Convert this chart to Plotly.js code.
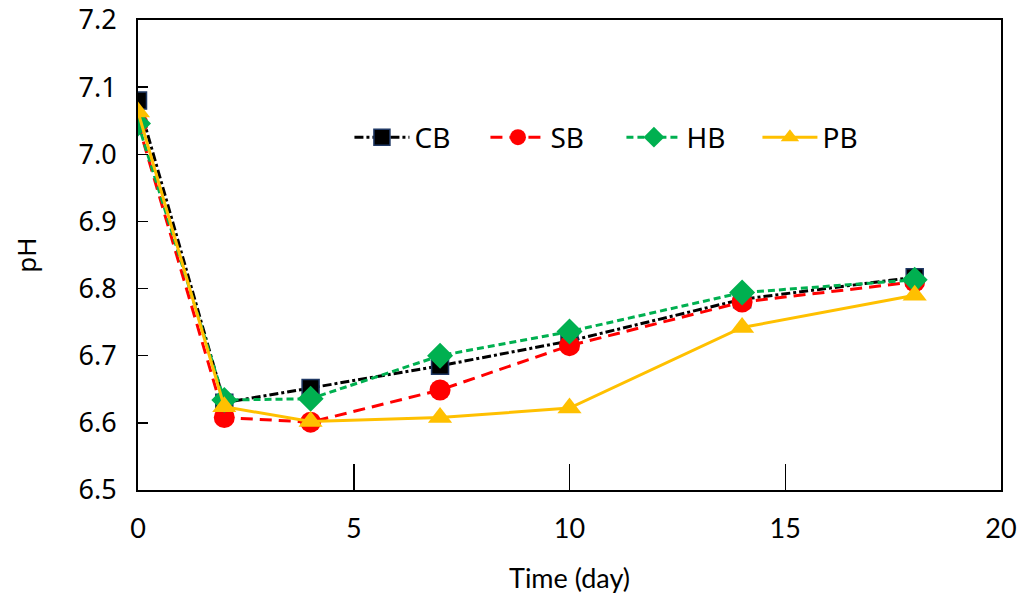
<!DOCTYPE html>
<html>
<head>
<meta charset="utf-8">
<script src="https://cdn.plot.ly/plotly-3.0.1.min.js"></script>
<style>html,body{margin:0;padding:0;background:#fff;}#chart{width:1026px;height:607px;}</style>
</head>
<body>
<div id="chart"></div>
<script>
var days = [0, 2, 4, 7, 10, 14, 18];
var CB = [7.080, 6.630, 6.652, 6.685, 6.722, 6.784, 6.817];
var SB = [7.046, 6.608, 6.601, 6.649, 6.715, 6.780, 6.810];
var HB = [7.046, 6.634, 6.636, 6.700, 6.736, 6.794, 6.813];
var PB = [7.063, 6.624, 6.602, 6.608, 6.622, 6.742, 6.790];
var xTicks = [0, 5, 10, 15, 20];
var yTicks = [6.5, 6.6, 6.7, 6.8, 6.9, 7.0, 7.1, 7.2];
var yTickText = ['6.5', '6.6', '6.7', '6.8', '6.9', '7.0', '7.1', '7.2'];

var traces = [
  {x: days, y: CB, name: 'CB', mode: 'lines+markers',
   line: {color: '#000000', width: 3, dash: 'dashdot'},
   marker: {symbol: 'square', size: 17, color: '#000000', line: {color: '#1F3864', width: 1.5}}},
  {x: days, y: SB, name: 'SB', mode: 'lines+markers',
   line: {color: '#FF0000', width: 3, dash: '12px,7px'},
   marker: {symbol: 'circle', size: 21, color: '#FF0000'}},
  {x: days, y: HB, name: 'HB', mode: 'lines+markers',
   line: {color: '#00B050', width: 3, dash: '7px,4px'},
   marker: {symbol: 'diamond', size: 20, color: '#00B050'}},
  {x: days, y: PB, name: 'PB', mode: 'lines+markers',
   line: {color: '#FFC000', width: 3},
   marker: {symbol: 'triangle-up', size: 21, color: '#FFC000'}}
];

var layout = {
  width: 1026, height: 607,
  margin: {l: 138, r: 25, t: 20, b: 117},
  paper_bgcolor: '#ffffff', plot_bgcolor: '#ffffff',
  showlegend: true,
  legend: {orientation: 'h', x: 0.245, y: 0.75, xanchor: 'left', yanchor: 'middle',
           font: {family: 'Noto Sans', size: 28, color: '#000'},
           itemwidth: 55,
           entrywidth: 66, entrywidthmode: 'pixels', bgcolor: 'rgba(0,0,0,0)'},
  xaxis: {range: [0, 20], tickvals: xTicks, ticktext: xTicks.map(String),
          showgrid: false, zeroline: false, showline: true, linecolor: '#000', linewidth: 2,
          mirror: true, ticks: 'inside', ticklen: 26, tickwidth: 1.5, tickcolor: '#000',
          ticklabelstandoff: 14,
          tickfont: {family: 'Lato', size: 27, color: '#000'},
          title: {text: 'Time (day)', font: {family: 'Lato', size: 27, color: '#000'}, standoff: 26}},
  yaxis: {range: [6.5, 7.2], tickvals: yTicks, ticktext: yTickText,
          showgrid: false, zeroline: false, showline: true, linecolor: '#000', linewidth: 2,
          mirror: true, ticks: 'inside', ticklen: 10, tickwidth: 1.5, tickcolor: '#000',
          ticklabelstandoff: 14,
          tickfont: {family: 'Noto Sans', size: 27, color: '#000'},
          title: {text: 'pH', font: {family: 'Noto Sans', size: 26, color: '#000'}, standoff: 34}}
};

Plotly.newPlot('chart', traces, layout, {displayModeBar: false, staticPlot: true});
</script>
</body>
</html>
